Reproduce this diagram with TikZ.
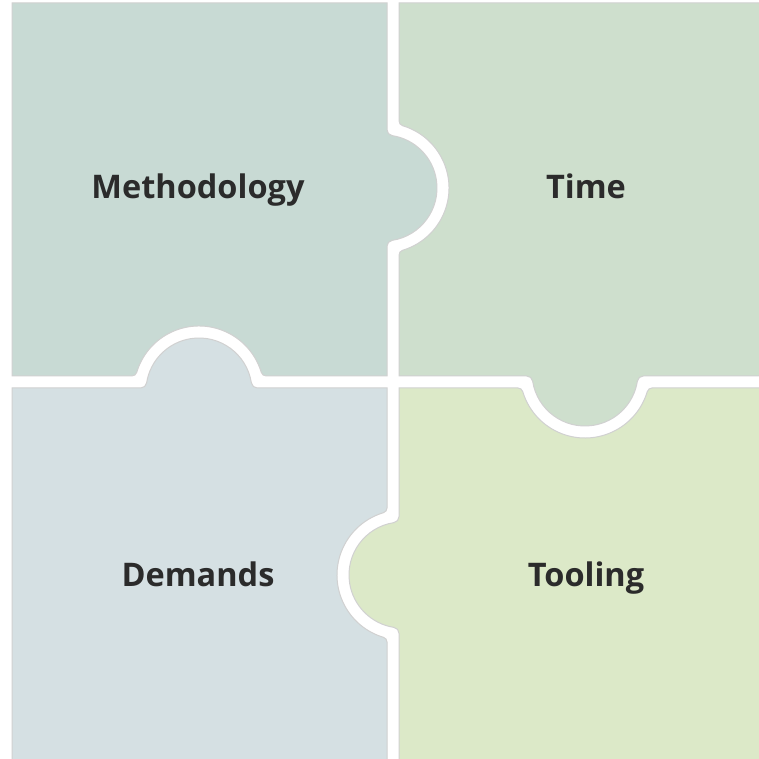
\documentclass[tikz,border=0pt]{standalone}
\usepackage{fontspec}
\setmainfont{Open Sans}
\usepackage{tikz}
\usetikzlibrary{positioning}

\definecolor{methcol}{HTML}{C8DAD4}
\definecolor{timecol}{HTML}{CEDFCD}
\definecolor{demcol}{HTML}{D5E0E3}
\definecolor{toolcol}{HTML}{DCE9C8}
\definecolor{labelcol}{HTML}{2B2B2B}

% knob sticking out of an edge: centre x, centre y, outward angle
\newcommand{\knob}[3]{-- ({#1+3*cos(#3)+58.31*sin(#3)},{#2+3*sin(#3)-58.31*cos(#3)})
  arc[start angle={#3+180}, end angle={#3+98.77}, radius=6]
  arc[start angle={#3-81.23}, end angle={#3+81.23}, radius=53]
  arc[start angle={#3+261.23}, end angle={#3+180}, radius=6]}
% matching hole in the next piece (same centre and angle as the knob)
\newcommand{\hole}[3]{-- ({#1+15*cos(#3)-67.08*sin(#3)},{#2+15*sin(#3)+67.08*cos(#3)})
  arc[start angle={#3+180}, end angle={#3+253.40}, radius=5]
  arc[start angle={#3+73.40}, end angle={#3-73.40}, radius=65]
  arc[start angle={#3+106.60}, end angle={#3+180}, radius=5]}

\begin{document}
\begin{tikzpicture}[x=1pt,y=1pt]
\tikzstyle{piece}=[draw=black!18,line width=1pt]
\tikzstyle{word}=[text=labelcol,anchor=base,font=\fontsize{32.5}{38}\selectfont\bfseries]
\useasboundingbox (0,0) rectangle (758,759);
\fill[white] (0,0) rectangle (758,759);

% the four pieces
\draw[piece,fill=methcol] (12,756) -- (12,383) \hole{199}{368}{90}
  -- (387,383) \knob{384}{571}{0} -- (387,756) -- cycle;
\draw[piece,fill=timecol] (399,756) \hole{384}{571}{0}
  -- (399,383) \knob{585}{386}{270} -- (770,383) -- (770,756) -- cycle;
\draw[piece,fill=demcol] (12,371) -- (12,-10) -- (387,-10) \hole{402}{184}{180}
  -- (387,371) \knob{199}{368}{90} -- cycle;
\draw[piece,fill=toolcol] (770,371) \hole{585}{386}{270}
  -- (399,371) \knob{402}{184}{180} -- (399,-10) -- (770,-10) -- cycle;

\node[word] (meth) at (198,560) {Methodology};
\node[word] (time) at (586,560) {Time};
\node[word] (dem) at (198,172) {Demands};
\node[word] (tool) at (586,172) {Tooling};
\end{tikzpicture}
\end{document}
